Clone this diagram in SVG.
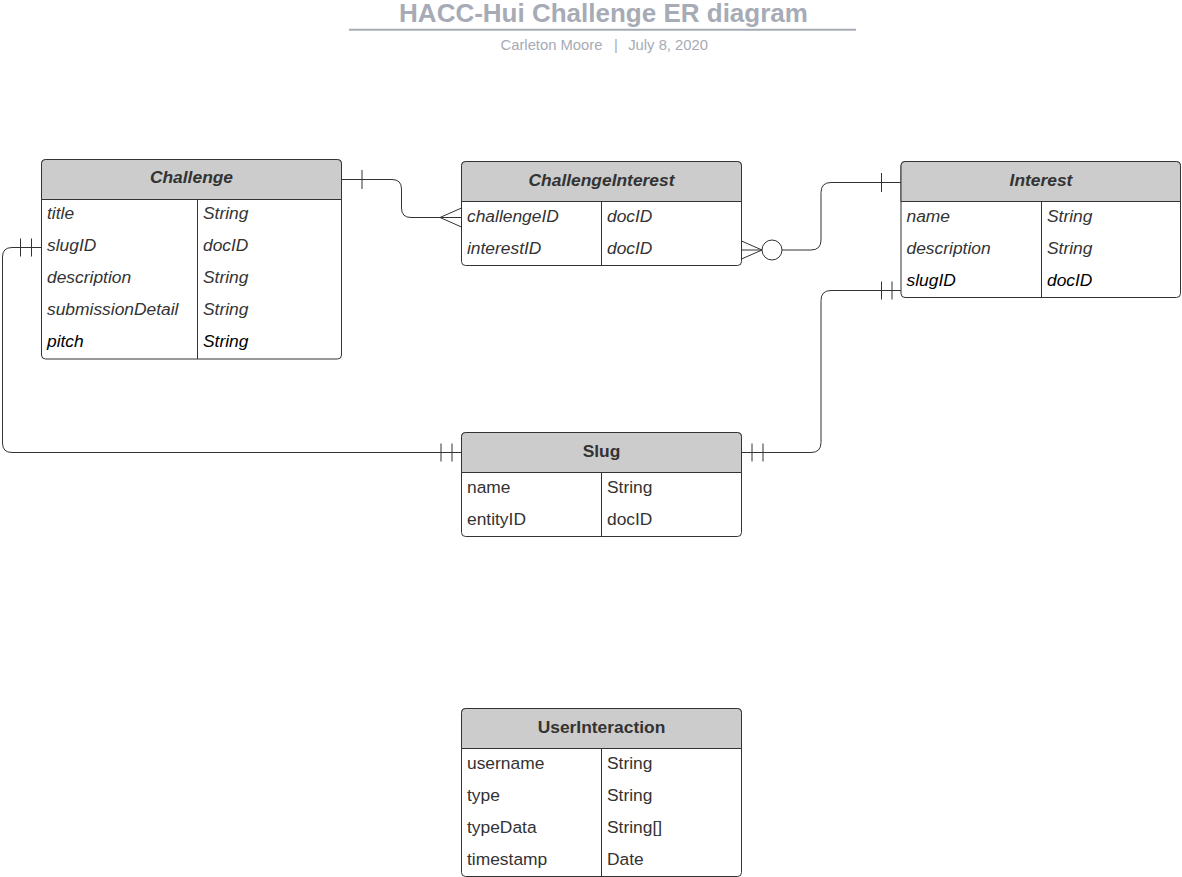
<svg xmlns="http://www.w3.org/2000/svg" width="1182" height="877" viewBox="0 0 1182 877">
<style>
.box{fill:#fff;stroke:#333;stroke-width:1}
.hdr{fill:#ccc;stroke:#333;stroke-width:1}
.div{stroke:#333;stroke-width:1;fill:none}
.ht{font-family:"Liberation Sans",Arial,sans-serif;font-size:17.4px;font-weight:bold;fill:#333;text-anchor:middle}
.i{font-style:italic}
.t{font-family:"Liberation Sans",Arial,sans-serif;font-size:17.4px;fill:#333}
.k{fill:#000}
.c{fill:none;stroke:#333;stroke-width:1}
.ttl{font-family:"Liberation Sans",Arial,sans-serif;font-size:26px;font-weight:bold;fill:#a6abb5;text-anchor:middle}
.sub{font-family:"Liberation Sans",Arial,sans-serif;font-size:14.8px;fill:#a6abb5}
</style>
<rect width="1182" height="877" fill="#fff"/>
<g id="title">
<text class="ttl" x="603.5" y="21.5">HACC-Hui Challenge ER diagram</text>
<line x1="349" y1="29.8" x2="856" y2="29.8" stroke="#a6abb5" stroke-width="2"/>
<text class="sub" x="500.5" y="50">Carleton Moore</text>
<text class="sub" x="616" y="50" text-anchor="middle">|</text>
<text class="sub" x="708" y="50" text-anchor="end">July 8, 2020</text>
</g>
<g id="connectors">
<path class="c" d="M341.5,179.5 H392 Q401.5,179.5 401.5,189 V208 Q401.5,217.5 411,217.5 H461.5"/>
<path class="c" d="M362,170 V189 M440,217.5 L461.5,208 M440,217.5 L461.5,227"/>
<path class="c" d="M741.5,250 H762 M762,250 L741.5,241 M762,250 L741.5,259"/>
<circle class="c" cx="772" cy="250" r="10"/>
<path class="c" d="M782,250 H811 Q821,250 821,240 V192.5 Q821,182.5 831,182.5 H901"/>
<path class="c" d="M881.5,173 V192"/>
<path class="c" d="M41.5,247.5 H12 Q2.5,247.5 2.5,257 V443 Q2.5,452.5 12,452.5 H461.5"/>
<path class="c" d="M20.5,238.5 V256.5 M31.5,238.5 V256.5 M441,443.5 V461.5 M452,443.5 V461.5"/>
<path class="c" d="M741.5,452.5 H811 Q821,452.5 821,442.5 V300.5 Q821,290.5 831,290.5 H901"/>
<path class="c" d="M752,443.5 V461.5 M763,443.5 V461.5 M881.5,281.5 V299.5 M892,281.5 V299.5"/>
</g>
<g id="challenge">
<rect class="box" x="41.5" y="159.5" width="300" height="199.5" rx="4"/>
<path class="hdr" d="M41.5,199.5 V163.5 Q41.5,159.5 45.5,159.5 H337.5 Q341.5,159.5 341.5,163.5 V199.5 Z"/>
<line class="div" x1="197.5" y1="199.5" x2="197.5" y2="359"/>
<text class="ht i" x="191.5" y="183">Challenge</text>
<text class="t i" x="47" y="218.5">title</text><text class="t i" x="203" y="218.5">String</text>
<text class="t i" x="47" y="250.5">slugID</text><text class="t i" x="203" y="250.5">docID</text>
<text class="t i" x="47" y="282.5">description</text><text class="t i" x="203" y="282.5">String</text>
<text class="t i" x="47" y="314.5">submissionDetail</text><text class="t i" x="203" y="314.5">String</text>
<text class="t i k" x="47" y="346.5">pitch</text><text class="t i k" x="203" y="346.5">String</text>
</g>
<g id="challengeinterest">
<rect class="box" x="461.5" y="161.5" width="280" height="104" rx="4"/>
<path class="hdr" d="M461.5,201.5 V165.5 Q461.5,161.5 465.5,161.5 H737.5 Q741.5,161.5 741.5,165.5 V201.5 Z"/>
<line class="div" x1="601.5" y1="201.5" x2="601.5" y2="265.5"/>
<text class="ht i" x="601.5" y="185.5">ChallengeInterest</text>
<text class="t i" x="467" y="221.5">challengeID</text><text class="t i" x="607" y="221.5">docID</text>
<text class="t i" x="467" y="253.5">interestID</text><text class="t i" x="607" y="253.5">docID</text>
</g>
<g id="interest">
<rect class="box" x="901" y="161.5" width="279.5" height="136" rx="4"/>
<path class="hdr" d="M901,201.5 V165.5 Q901,161.5 905,161.5 H1176.5 Q1180.5,161.5 1180.5,165.5 V201.5 Z"/>
<line class="div" x1="1041.5" y1="201.5" x2="1041.5" y2="297.5"/>
<text class="ht i" x="1041" y="185.5">Interest</text>
<text class="t i" x="906.5" y="221.5">name</text><text class="t i" x="1047" y="221.5">String</text>
<text class="t i" x="906.5" y="253.5">description</text><text class="t i" x="1047" y="253.5">String</text>
<text class="t i k" x="906.5" y="285.5">slugID</text><text class="t i k" x="1047" y="285.5">docID</text>
</g>
<g id="slug">
<rect class="box" x="461.5" y="432.5" width="280" height="104" rx="4"/>
<path class="hdr" d="M461.5,472.5 V436.5 Q461.5,432.5 465.5,432.5 H737.5 Q741.5,432.5 741.5,436.5 V472.5 Z"/>
<line class="div" x1="601.5" y1="472.5" x2="601.5" y2="536.5"/>
<text class="ht" x="601.5" y="456.5">Slug</text>
<text class="t" x="467" y="492.5">name</text><text class="t" x="607" y="492.5">String</text>
<text class="t" x="467" y="524.5">entityID</text><text class="t" x="607" y="524.5">docID</text>
</g>
<g id="userinteraction">
<rect class="box" x="461.5" y="708.5" width="280" height="168" rx="4"/>
<path class="hdr" d="M461.5,748.5 V712.5 Q461.5,708.5 465.5,708.5 H737.5 Q741.5,708.5 741.5,712.5 V748.5 Z"/>
<line class="div" x1="601.5" y1="748.5" x2="601.5" y2="876.5"/>
<text class="ht" x="601.5" y="732.5">UserInteraction</text>
<text class="t" x="467" y="768.5">username</text><text class="t" x="607" y="768.5">String</text>
<text class="t" x="467" y="800.5">type</text><text class="t" x="607" y="800.5">String</text>
<text class="t" x="467" y="832.5">typeData</text><text class="t" x="607" y="832.5">String[]</text>
<text class="t" x="467" y="864.5">timestamp</text><text class="t" x="607" y="864.5">Date</text>
</g>
</svg>
